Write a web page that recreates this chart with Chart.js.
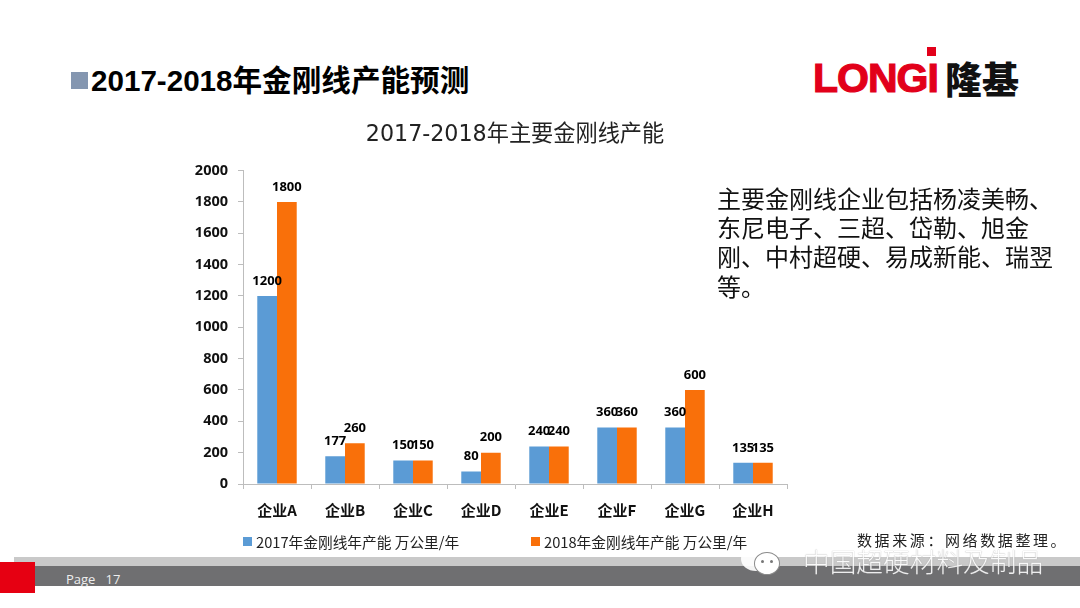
<!DOCTYPE html>
<html>
<head>
<meta charset="utf-8">
<script src="https://cdn.jsdelivr.net/npm/chart.js@4"></script>
<style>
  html, body { margin: 0; padding: 0; background: #fff; }
  body { width: 1080px; height: 608px; overflow: hidden; position: relative; font-family: "Noto Sans CJK SC", sans-serif; color: #111; }
  .abs { position: absolute; white-space: nowrap; }
  canvas { position: absolute; left: 0; top: 0; }
  #legend span.box { position: absolute; width: 9px; height: 9px; top: 5px; left: 0; }
  #legend .item { position: absolute; top: 0; padding-left: 13px; font-size: 14.7px; line-height: 19px; color: #222; white-space: nowrap; }
</style>
</head>
<body>
<!-- footer bars -->
<div class="abs" style="left:14px;top:557px;width:1066px;height:9px;background:#c9c9c9"></div>
<div class="abs" style="left:14px;top:566px;width:1066px;height:20px;background:#6f6f71"></div>
<div class="abs" style="left:0;top:562px;width:35px;height:31px;background:#e60012"></div>
<div class="abs" style="left:66px;top:570px;font:13px/18px 'Open Sans';color:#eee;white-space:pre">Page   17</div>

<!-- heading -->
<div class="abs" style="left:71px;top:72px;width:17px;height:17px;background:#8496b0"></div>
<div class="abs" style="left:91px;top:60px;font:bold 29.6px/42px 'Liberation Sans','Noto Sans CJK SC';color:#000">2017-2018年金刚线产能预测</div>

<!-- logo -->
<div class="abs" style="left:813px;top:55px;font:bold 41px/46px 'Liberation Sans';color:#e2001a;letter-spacing:-1px;-webkit-text-stroke:1.2px #e2001a">LONGI</div>
<div class="abs" style="left:927px;top:47px;width:9px;height:9px;background:#e2001a"></div>
<div class="abs" style="left:945px;top:55px;font:900 37px/46px 'Noto Sans CJK SC';color:#111">隆基</div>

<canvas id="capacityChart" width="1080" height="608"></canvas>
<div id="legend" class="abs" style="left:0;top:532px;width:1080px;height:20px"></div>

<!-- side note -->
<div class="abs" style="left:717px;top:183px;font:24px/29.2px 'Noto Sans CJK SC';color:#111;white-space:pre">主要金刚线企业包括杨凌美畅、
东尼电子、三超、岱勒、旭金
刚、中村超硬、易成新能、瑞翌
等。</div>
<div class="abs" style="left:857px;top:529px;font:15px/22px 'Noto Sans CJK SC';letter-spacing:2.6px;color:#222">数据来源：网络数据整理。</div>

<!-- watermark -->
<div class="abs" style="left:741px;top:547px;width:30px;height:24px;border-radius:50%;background:#fff;opacity:.92"></div>
<div class="abs" style="left:754px;top:552px;width:24px;height:21px;border-radius:50%;background:#fff;border:1px solid #8a8a8a"></div>
<div class="abs" style="left:761px;top:560px;width:3px;height:3px;border-radius:50%;background:#777"></div>
<div class="abs" style="left:770px;top:560px;width:3px;height:3px;border-radius:50%;background:#777"></div>
<div class="abs" style="left:803px;top:540px;font:300 26.7px/42px 'Noto Sans CJK SC';color:#fff;opacity:.88;text-shadow:0 0 1px #888">中国超硬材料及制品</div>

<script>
const categories = ['企业A', '企业B', '企业C', '企业D', '企业E', '企业F', '企业G', '企业H'];
const capacity2017 = [1200, 177, 150, 80, 240, 360, 360, 135];
const capacity2018 = [1800, 260, 150, 200, 240, 360, 600, 135];
const seriesNames = ['2017年金刚线年产能 万公里/年', '2018年金刚线年产能 万公里/年'];
const yTicks = [0, 200, 400, 600, 800, 1000, 1200, 1400, 1600, 1800, 2000];
const blue = '#5b9bd5';
const orange = '#f9700a';

// value labels above the bars, same spot for both series
const barValueLabels = {
  id: 'barValueLabels',
  afterDatasetsDraw(chart) {
    const ctx = chart.ctx;
    ctx.save();
    ctx.font = "bold 13px 'Open Sans'";
    ctx.fillStyle = '#000';
    ctx.textAlign = 'center';
    ctx.textBaseline = 'middle';
    chart.data.datasets.forEach((ds, i) => {
      chart.getDatasetMeta(i).data.forEach((bar, j) => {
        ctx.fillText(String(ds.data[j]), bar.x, bar.y - 15);
      });
    });
    ctx.restore();
  }
};

const chart = new Chart(document.getElementById('capacityChart'), {
  type: 'bar',
  data: {
    labels: categories,
    datasets: [
      { label: seriesNames[0], data: capacity2017, backgroundColor: blue },
      { label: seriesNames[1], data: capacity2018, backgroundColor: orange }
    ]
  },
  plugins: [barValueLabels],
  options: {
    responsive: false,
    animation: false,
    devicePixelRatio: 1,
    layout: { padding: { left: 180, right: 293, top: 122, bottom: 85 } },
    datasets: { bar: { categoryPercentage: 0.58, barPercentage: 1 } },
    plugins: {
      legend: { display: false },
      tooltip: { enabled: false },
      title: {
        display: true,
        fullSize: false,
        text: '2017-2018年主要金刚线产能',
        color: '#222',
        font: { family: "'DejaVu Sans','Noto Sans CJK SC'", size: 22.2, weight: 'normal', lineHeight: 1.2 },
        padding: { top: 0, bottom: 22 }
      }
    },
    scales: {
      x: {
        afterFit(scale) { scale.height = 39; },
        border: { color: '#bdbdbd' },
        grid: { drawOnChartArea: false, tickLength: 5, color: '#bdbdbd' },
        ticks: { color: '#111', padding: 12, maxRotation: 0, font: { family: "'Noto Sans CJK SC'", size: 15, weight: 'bold' } }
      },
      y: {
        min: 0,
        max: 2000,
        afterFit(scale) { scale.width = 63; },
        afterBuildTicks(scale) { scale.ticks = yTicks.map((value) => ({ value })); },
        border: { color: '#bdbdbd' },
        grid: { drawOnChartArea: false, tickLength: 5, color: '#bdbdbd' },
        ticks: {
          color: '#111',
          padding: 10,
          font: { family: "'Open Sans'", size: 14.5, weight: 'bold' },
          callback: (value) => String(value)
        }
      }
    }
  }
});

// legend sits apart from the plot, so it is built from the chart's own datasets
const legendLefts = [243, 531];
chart.data.datasets.forEach((ds, i) => {
  const item = document.createElement('div');
  item.className = 'item';
  item.style.left = legendLefts[i] + 'px';
  item.textContent = ds.label;
  const box = document.createElement('span');
  box.className = 'box';
  box.style.background = ds.backgroundColor;
  item.appendChild(box);
  document.getElementById('legend').appendChild(item);
});
</script>
</body>
</html>
